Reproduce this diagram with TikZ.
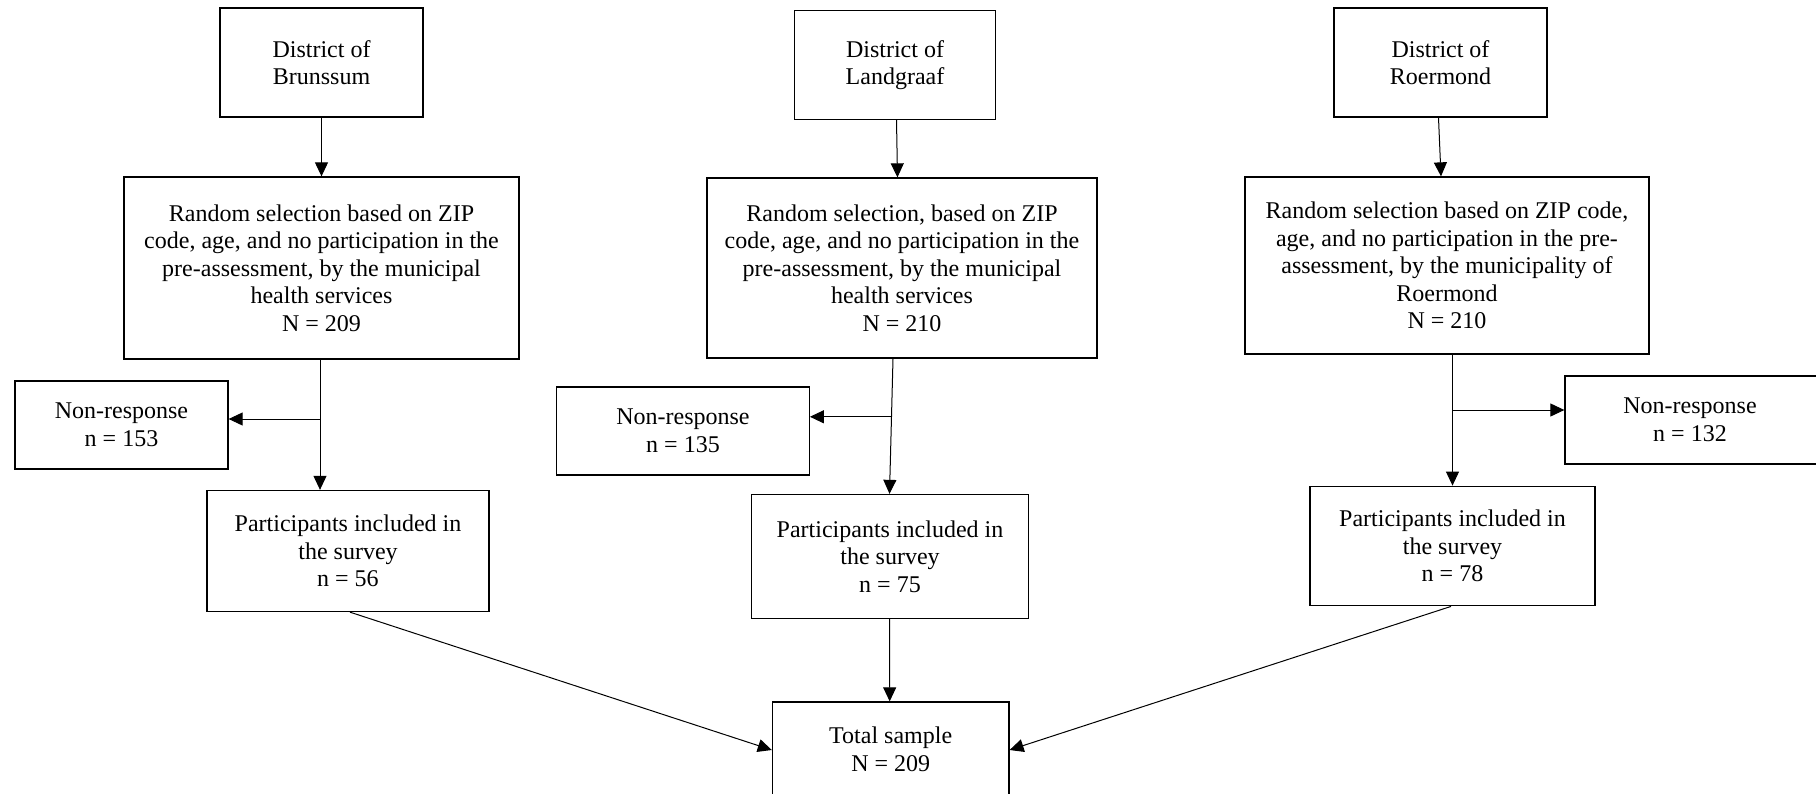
\documentclass[tikz,border=0pt]{standalone}
\usepackage{fontspec}
\setmainfont{Liberation Serif}
\usetikzlibrary{arrows.meta}
\begin{document}
\begin{tikzpicture}[x=1pt,y=-1pt,
  box/.style={draw, line width=1.3pt, align=center, inner sep=0pt,
    font=\fontsize{24}{27.6}\selectfont},
  txt/.style={align=center, inner sep=0pt, font=\fontsize{24}{27.6}\selectfont},
  arr/.style={-{Triangle[length=14pt,width=13pt]}, line width=1pt},
  ln/.style={line width=1pt}]
\useasboundingbox (0,0) rectangle (1816,793);
% districts
\node[box, minimum width=203pt, minimum height=109pt] (d1) at (321.5,62.5) {District of\\Brunssum};
\node[box, minimum width=201.5pt, minimum height=109pt] (d2) at (895,65) {District of\\Landgraaf};
\node[box, minimum width=213pt, minimum height=109pt] (d3) at (1440.5,62.5) {District of\\Roermond};
% random selection
\node[box, minimum width=395pt, minimum height=182pt] (r1) at (321.5,268) {Random selection based on ZIP\\code, age, and no participation in the\\pre-assessment, by the municipal\\health services\\N = 209};
\node[box, minimum width=390pt, minimum height=180pt] (r2) at (902,268) {Random selection, based on ZIP\\code, age, and no participation in the\\pre-assessment, by the municipal\\health services\\N = 210};
\node[box, minimum width=404pt, minimum height=177pt] (r3) at (1447,265.5) {Random selection based on ZIP code,\\age, and no participation in the pre-\\assessment, by the municipality of\\Roermond\\N = 210};
% non-response
\node[box, minimum width=213pt, minimum height=88pt] (n1) at (121.5,425) {Non-response\\n = 153};
\node[box, minimum width=252.5pt, minimum height=88pt] (n2) at (683,431) {Non-response\\n = 135};
\node[box, minimum width=270pt, minimum height=88pt] (n3) at (1700,420) {};
\node[txt] (n3t) at (1690,420) {Non-response\\n = 132};
% participants
\node[box, minimum width=282pt, minimum height=121pt] (p1) at (348,551) {Participants included in\\the survey\\n = 56};
\node[box, minimum width=276.5pt, minimum height=124pt] (p2) at (890,556.5) {Participants included in\\the survey\\n = 75};
\node[box, minimum width=285pt, minimum height=119.5pt] (p3) at (1452.5,546) {Participants included in\\the survey\\n = 78};
% total
\node[box, minimum width=236.5pt, minimum height=94pt] (t) at (890.7,749) {Total sample\\N = 209};
% district -> random
\draw[arr] (d1.south) -- (r1.north);
\draw[arr] ([xshift=1.5pt]d2.south) -- ([xshift=-4.5pt]r2.north);
\draw[arr] ([xshift=-2pt]d3.south) -- ([xshift=-6pt]r3.north);
% random -> participants with branch
\coordinate (j1) at (320,419);
\draw[ln] ([xshift=-1.5pt]r1.south) -- (j1);
\draw[arr] (j1) -- (j1 |- p1.north);
\draw[arr] (j1) -- (j1 -| n1.east);
\coordinate (s2) at ([xshift=-9pt]r2.south);
\path (s2) -- ([xshift=-0.5pt]p2.north) coordinate[pos=0.43] (j2);
\draw[arr] (s2) -- ([xshift=-0.5pt]p2.north);
\draw[arr] (j2) -- (j2 -| n2.east);
\coordinate (j3) at (1452.5,410);
\draw[ln] (r3.south -| j3) -- (j3);
\draw[arr] (j3) -- (p3.north);
\draw[arr] (j3) -- (j3 -| n3.west);
% participants -> total
\draw[arr] ([xshift=2pt]p1.south) -- ([yshift=-1pt]t.west);
\draw[arr] ([xshift=-0.5pt]p2.south) -- ([xshift=-1pt]t.north);
\draw[arr] ([xshift=-1.5pt]p3.south) -- ([yshift=-1pt]t.east);
\end{tikzpicture}
\end{document}
